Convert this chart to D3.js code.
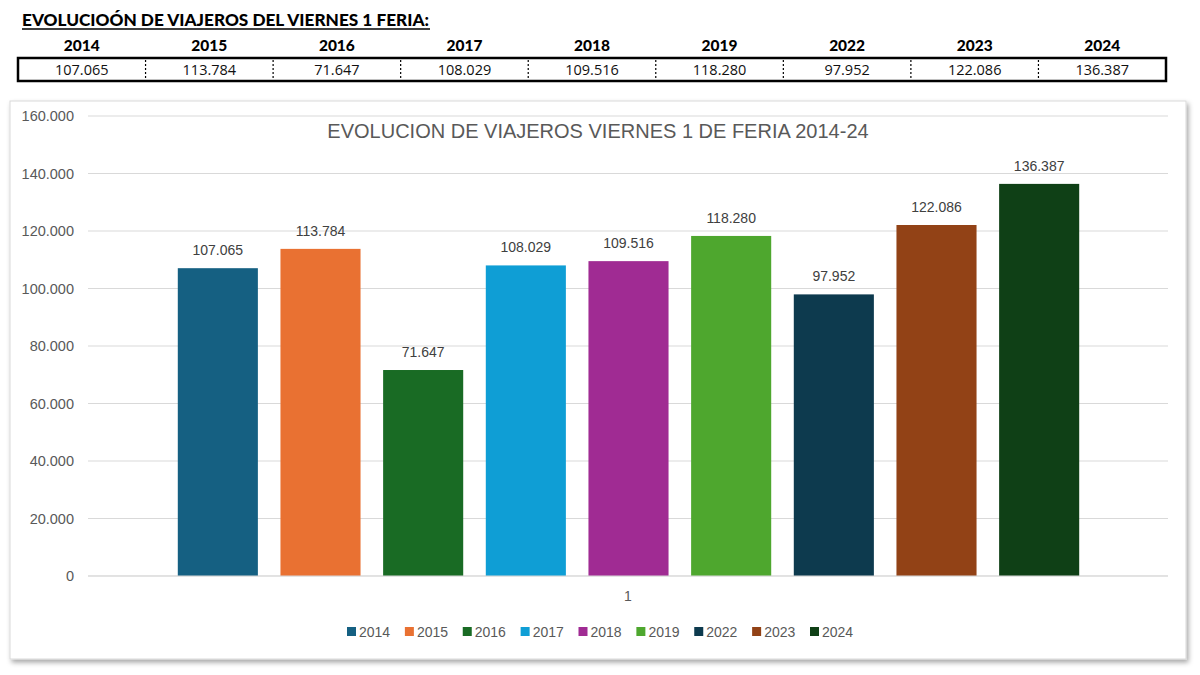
<!DOCTYPE html>
<html><head><meta charset="utf-8">
<script src="https://cdn.jsdelivr.net/npm/d3@7/dist/d3.min.js"></script>
<style>
html,body{margin:0;padding:0;background:#fff;}
svg{display:block;}
</style></head>
<body>
<svg id="c" width="1200" height="675"></svg>
<script>
const years = ["2014","2015","2016","2017","2018","2019","2022","2023","2024"];
const values = [107065,113784,71647,108029,109516,118280,97952,122086,136387];
const colors = ["#156082","#E97132","#196B24","#0F9ED5","#A02B93","#4EA72E","#0D3A4E","#924216","#0F4016"];
const yTicks = [0,20000,40000,60000,80000,100000,120000,140000,160000];
const headerTitle = "EVOLUCIOÓN DE VIAJEROS DEL VIERNES 1 FERIA:";
const chartTitle = "EVOLUCION DE VIAJEROS VIERNES 1 DE FERIA 2014-24";
const categoryLabel = "1";

const loc = d3.formatLocale({decimal:",", thousands:".", grouping:[3], currency:["","€"]});
const fmt = loc.format(",.0f");
const fmtTick = v => v === 0 ? "0" : loc.format(",.3f")(v/1000).replace(",", ".");
const svg = d3.select("#c");

// ---------- Header table ----------
const hdr = svg.append("g");
hdr.append("text").attr("x",22).attr("y",26)
  .attr("font-family","Lato").attr("font-weight",900).attr("font-size",16)
  .attr("textLength",407).attr("lengthAdjust","spacingAndGlyphs")
  .attr("fill","#000").text(headerTitle);
hdr.append("line").attr("x1",22).attr("x2",430).attr("y1",29).attr("y2",29)
  .attr("stroke","#000").attr("stroke-width",1.6);

const tx = d3.scaleBand().domain(years).range([18,1166]);
hdr.selectAll("text.yr").data(years).join("text").attr("class","yr")
  .attr("x",d=>tx(d)+tx.bandwidth()/2).attr("y",51)
  .attr("text-anchor","middle").attr("font-family","Lato").attr("font-weight",900)
  .attr("font-size",15.5).attr("fill","#000").text(d=>d);
hdr.append("rect").attr("x",18).attr("y",58).attr("width",1148).attr("height",23)
  .attr("fill","none").attr("stroke","#000").attr("stroke-width",2.5);
hdr.selectAll("line.div").data(years.slice(1)).join("line").attr("class","div")
  .attr("x1",d=>tx(d)).attr("x2",d=>tx(d)).attr("y1",60).attr("y2",79)
  .attr("stroke","#000").attr("stroke-width",1.2).attr("stroke-dasharray","2,2");
hdr.selectAll("text.val").data(values).join("text").attr("class","val")
  .attr("x",(d,i)=>tx(years[i])+tx.bandwidth()/2).attr("y",75)
  .attr("text-anchor","middle").attr("font-family","'Open Sans'")
  .attr("font-size",14.5).attr("fill","#111").text(d=>fmt(d));

// ---------- Chart box ----------
const defs = svg.append("defs");
const f = defs.append("filter").attr("id","sh").attr("x","-5%").attr("y","-5%").attr("width","110%").attr("height","112%");
f.append("feDropShadow").attr("dx",2).attr("dy",3).attr("stdDeviation",2.5).attr("flood-color","#000").attr("flood-opacity",0.35);
svg.append("rect").attr("x",10).attr("y",101).attr("width",1176).attr("height",558)
  .attr("fill","#fff").attr("stroke","#d9d9d9").attr("stroke-width",1).attr("filter","url(#sh)");

const y = d3.scaleLinear().domain([0,160000]).range([576,116]);
const x = d3.scaleBand().domain(years).range([166.5,1090.5]).paddingInner(0.22).paddingOuter(0.11);

// gridlines
svg.append("g").selectAll("line").data(yTicks).join("line")
  .attr("x1",88).attr("x2",1168).attr("y1",d=>y(d)).attr("y2",d=>y(d))
  .attr("stroke","#d9d9d9").attr("stroke-width",1);

// y axis labels
const yAxis = svg.append("g").attr("transform","translate(74,0)")
  .call(d3.axisLeft(y).tickValues(yTicks).tickFormat(fmtTick).tickSize(0).tickPadding(0));
yAxis.select(".domain").remove();
yAxis.selectAll("text").attr("font-family","Liberation Sans").attr("font-size",14.5).attr("fill","#595959");

// title
svg.append("text").attr("x",598).attr("y",138).attr("text-anchor","middle")
  .attr("font-family","Liberation Sans").attr("font-size",20).attr("fill","#595959").text(chartTitle);

// bars
svg.append("g").selectAll("rect").data(values).join("rect")
  .attr("x",(d,i)=>x(years[i])).attr("width",x.bandwidth())
  .attr("y",d=>y(d)).attr("height",d=>y(0)-y(d))
  .attr("fill",(d,i)=>colors[i]);

// data labels
svg.append("g").selectAll("text").data(values).join("text")
  .attr("x",(d,i)=>x(years[i])+x.bandwidth()/2).attr("y",d=>y(d)-13)
  .attr("text-anchor","middle").attr("font-family","Liberation Sans").attr("font-size",14)
  .attr("fill","#404040").text(d=>fmt(d));

// baseline axis
svg.append("line").attr("x1",88).attr("x2",1168).attr("y1",y(0)).attr("y2",y(0))
  .attr("stroke","#d9d9d9").attr("stroke-width",1);

// category label
svg.append("text").attr("x",628).attr("y",601).attr("text-anchor","middle")
  .attr("font-family","Liberation Sans").attr("font-size",14).attr("fill","#595959").text(categoryLabel);

// legend
const lx = d3.scalePoint().domain(years).range([347,810]);
const lg = svg.append("g").selectAll("g").data(years).join("g")
  .attr("transform",d=>`translate(${lx(d)},632)`);
lg.append("rect").attr("x",0).attr("y",-5).attr("width",9).attr("height",9)
  .attr("fill",(d,i)=>colors[i]);
lg.append("text").attr("x",12).attr("y",5).attr("font-family","Liberation Sans")
  .attr("font-size",14).attr("fill","#595959").text(d=>d);
</script>
</body></html>
